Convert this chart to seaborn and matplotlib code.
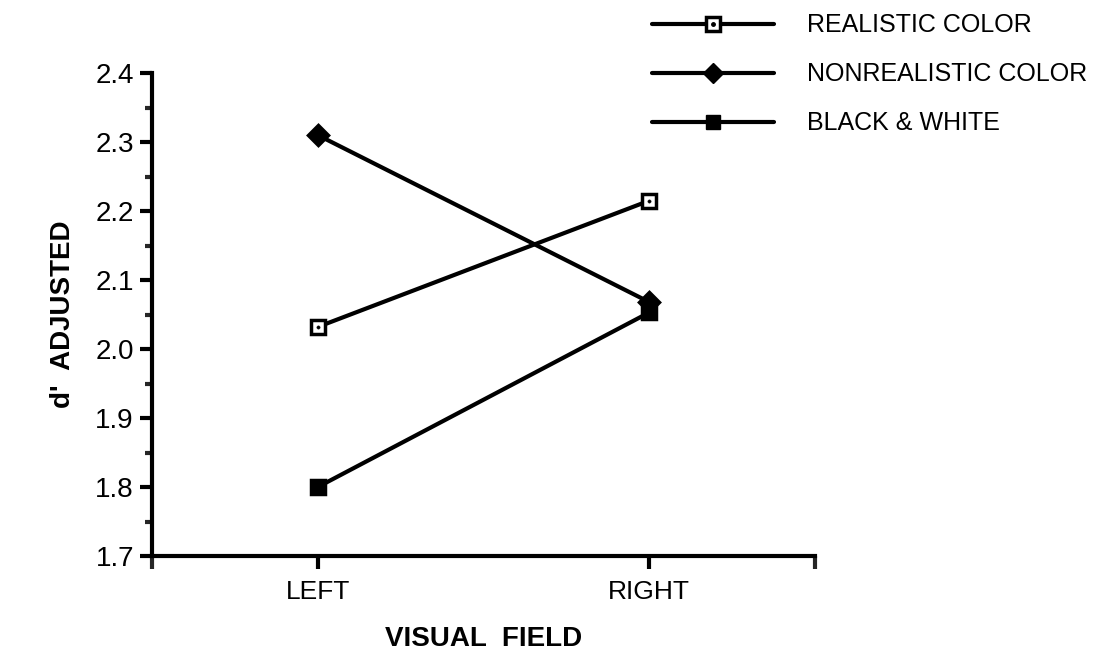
import matplotlib
matplotlib.use("Agg")
import matplotlib.pyplot as plt
import seaborn as sns
import pandas as pd
from matplotlib.lines import Line2D
from matplotlib.ticker import MultipleLocator, FixedLocator
from matplotlib.legend_handler import HandlerTuple

sns.set_theme(style="white")
plt.rcParams['font.family'] = ['Liberation Sans', 'DejaVu Sans']
plt.rcParams['text.color'] = 'black'

fields = ["LEFT", "RIGHT"]
field_pos = [1, 2]
realistic = [2.032, 2.215]
nonrealistic = [2.31, 2.068]
black_white = [1.80, 2.053]
series_names = ["REALISTIC COLOR", "NONREALISTIC COLOR", "BLACK & WHITE"]

df = pd.DataFrame({
    "field": field_pos * 3,
    "value": realistic + nonrealistic + black_white,
    "series": [series_names[0]] * 2 + [series_names[1]] * 2 + [series_names[2]] * 2,
})

fig = plt.figure(figsize=(11.08, 6.56), dpi=100)
ax = fig.add_axes([0.1372, 0.1524, 0.5984, 0.7363])

markers = {series_names[0]: "s", series_names[1]: "D", series_names[2]: "s"}
sns.lineplot(data=df, x="field", y="value", hue="series", style="series",
             markers=markers, dashes=False,
             palette={s: "black" for s in series_names},
             linewidth=3, ax=ax, legend=False)

lines = ax.get_lines()
for ln, name in zip(lines, series_names):
    ln.set_markeredgecolor("black")
    ln.set_markeredgewidth(2.5)
    if name == series_names[0]:
        ln.set_markerfacecolor("white")
        ln.set_markersize(10)
    elif name == series_names[1]:
        ln.set_markerfacecolor("black")
        ln.set_markersize(10)
    else:
        ln.set_markerfacecolor("black")
        ln.set_markersize(10)
    ln.set_zorder(3)

rdf = df[df["series"] == series_names[0]]
sns.scatterplot(data=rdf, x="field", y="value", color="black", s=6,
                marker="o", edgecolor="black", ax=ax, zorder=4, legend=False)

ax.set_xlim(0.5, 2.5)
ax.set_ylim(1.7, 2.4)
ax.set_xticks(field_pos)
ax.set_xticklabels(fields)
ax.xaxis.set_minor_locator(FixedLocator([0.5, 2.5]))
ax.yaxis.set_major_locator(MultipleLocator(0.1))
ax.yaxis.set_minor_locator(MultipleLocator(0.05))
ax.set_yticklabels([f"{v:.1f}" for v in ax.get_yticks()])

for side in ["top", "right"]:
    ax.spines[side].set_visible(False)
for side in ["left", "bottom"]:
    ax.spines[side].set_linewidth(3)
    ax.spines[side].set_color("black")

ax.tick_params(axis="y", which="major", direction="out", length=9, width=3,
               labelsize=20, pad=4, colors="black", left=True)
ax.tick_params(axis="y", which="minor", direction="out", length=5, width=3, left=True)
ax.tick_params(axis="x", which="major", direction="out", length=9, width=3,
               labelsize=19, pad=8, colors="black", bottom=True)
ax.tick_params(axis="x", which="minor", direction="out", length=9, width=3, bottom=True)

ax.set_xlabel("VISUAL  FIELD", fontsize=20, fontweight="bold", labelpad=16, color="black")
ax.set_ylabel("d'  ADJUSTED", fontsize=20, fontweight="bold", labelpad=14, color="black")

# legend
h_real = (Line2D([], [], color="black", lw=3, marker="s", markersize=10,
                 markerfacecolor="white", markeredgecolor="black", markeredgewidth=2.5),
          Line2D([], [], color="black", lw=0, marker="o", markersize=2.5,
                 markerfacecolor="black", markeredgecolor="black"))
h_non = Line2D([], [], color="black", lw=3, marker="D", markersize=10,
               markerfacecolor="black", markeredgecolor="black")
h_bw = Line2D([], [], color="black", lw=3, marker="s", markersize=10,
              markerfacecolor="black", markeredgecolor="black")
leg = fig.legend([h_real, h_non, h_bw], series_names,
                 loc="upper left", bbox_to_anchor=(0.568, 1.014),
                 frameon=False, fontsize=18, handlelength=4.9,
                 handletextpad=1.3, labelspacing=1.0,
                 handler_map={tuple: HandlerTuple(ndivide=1)})
for t in leg.get_texts():
    t.set_color("black")

fig.savefig("out.png", dpi=100, facecolor="white")
